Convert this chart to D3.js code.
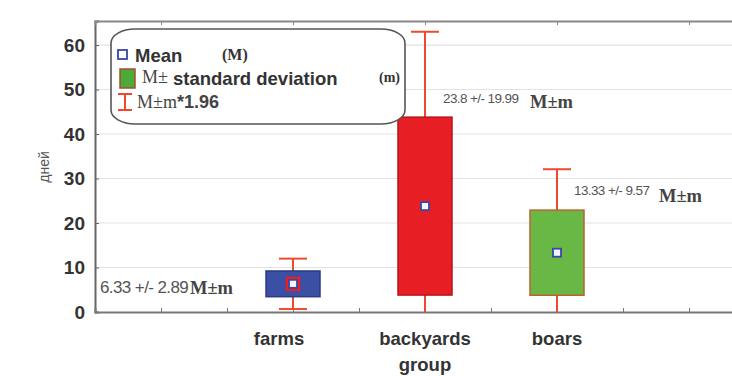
<!DOCTYPE html>
<html>
<head>
<meta charset="utf-8">
<script src="https://cdn.jsdelivr.net/npm/d3@7"></script>
<style>
  html, body { margin: 0; padding: 0; background: #fff; }
  svg { display: block; }
</style>
</head>
<body>
<svg id="chart" width="732" height="376"></svg>
<script>
// Group means with standard deviation, whiskers at M ± m*1.96
const groups = ["farms", "backyards", "boars"];
const groupPos = [1.5, 2.5, 3.5];
const means = [6.33, 23.8, 13.33];
const stdDevs = [2.89, 19.99, 9.57];
const multiplier = 1.96;
const boxFills = ["#3b4fa5", "#e81e25", "#69b845"];
const boxStrokes = ["#2c3b80", "#b5151b", "#c0602f"];
const yTicks = [0, 10, 20, 30, 40, 50, 60];
const valueLabels = ["6.33 +/- 2.89", "23.8 +/- 19.99", "13.33 +/- 9.57"];

const svg = d3.select("#chart");
const plotLeft = 95, plotRight = 755, plotTop = 21, plotBottom = 312;
const sans = "Liberation Sans, Arial, sans-serif";
const serif = "Liberation Serif, Times New Roman, serif";

const x = d3.scaleLinear().domain([0, 5]).range([plotLeft, plotRight]);
const y = d3.scaleLinear().domain([0, 65.4]).range([plotBottom, plotTop]);

const plot = svg.append("g");
plot.append("clipPath").attr("id", "clip")
  .append("rect").attr("x", plotLeft).attr("y", plotTop)
  .attr("width", plotRight - plotLeft).attr("height", plotBottom - plotTop);

// horizontal grid
plot.append("g").selectAll("line").data(yTicks.filter(d => d > 0)).join("line")
  .attr("x1", plotLeft).attr("x2", plotRight)
  .attr("y1", d => y(d)).attr("y2", d => y(d))
  .attr("stroke", "#e2e2e2").attr("stroke-width", 1.2);

// y axis
const yAxis = svg.append("g").attr("transform", `translate(${plotLeft},0)`)
  .call(d3.axisLeft(y).tickValues(yTicks).tickSize(-4).tickPadding(10));
yAxis.select(".domain").attr("stroke", "#666").attr("stroke-width", 2);
yAxis.selectAll(".tick line").attr("stroke", "#666");
yAxis.selectAll("text").attr("font-family", sans)
  .attr("font-size", 19).attr("font-weight", "bold").attr("fill", "#333");

// bottom axis with category labels
const minorTicks = d3.range(0.5, 5, 0.5);
const xAxis = svg.append("g").attr("transform", `translate(0,${plotBottom})`)
  .call(d3.axisBottom(x).tickValues(minorTicks).tickSize(-4).tickFormat(() => ""));
xAxis.select(".domain").attr("stroke", "#777").attr("stroke-width", 2);
xAxis.selectAll(".tick line").attr("stroke", "#777");

svg.append("g").selectAll("text").data(groups).join("text")
  .attr("x", (d, i) => x(groupPos[i]) - (i === 0 ? 14 : 0))
  .attr("y", 345)
  .attr("text-anchor", "middle")
  .attr("font-family", sans)
  .attr("font-size", 18.5).attr("font-weight", "bold").attr("fill", "#333")
  .text(d => d);

// top border with ticks
const topAxis = svg.append("g").attr("transform", `translate(0,${plotTop})`)
  .call(d3.axisTop(x).tickValues([0.5, 1.5, 2.5, 3.5, 4.5]).tickSize(-4).tickFormat(() => ""));
topAxis.select(".domain").attr("stroke", "#888").attr("stroke-width", 2);
topAxis.selectAll(".tick line").attr("stroke", "#888");

// axis titles
svg.append("text")
  .attr("transform", `translate(49,167) rotate(-90)`)
  .attr("text-anchor", "middle")
  .attr("font-family", sans)
  .attr("font-size", 14).attr("fill", "#555")
  .text("дней");
svg.append("text")
  .attr("x", x(2.5)).attr("y", 371)
  .attr("text-anchor", "middle")
  .attr("font-family", sans)
  .attr("font-size", 18.5).attr("font-weight", "bold").attr("fill", "#333")
  .text("group");

// data marks
const marks = svg.append("g").attr("clip-path", "url(#clip)");
const boxW = 54, capW = 28;
const data = groups.map((g, i) => ({
  g, i, cx: x(groupPos[i]), m: means[i], sd: stdDevs[i]
}));

// whiskers
marks.selectAll(".whisker").data(data).join("line")
  .attr("x1", d => d.cx).attr("x2", d => d.cx)
  .attr("y1", d => y(d.m + d.sd * multiplier)).attr("y2", d => y(d.m - d.sd * multiplier))
  .attr("stroke", "#f04a2e").attr("stroke-width", 2);
marks.selectAll(".capTop").data(data).join("line")
  .attr("x1", d => d.cx - capW / 2).attr("x2", d => d.cx + capW / 2)
  .attr("y1", d => y(d.m + d.sd * multiplier)).attr("y2", d => y(d.m + d.sd * multiplier))
  .attr("stroke", "#f04a2e").attr("stroke-width", 2);
marks.selectAll(".capBot").data(data).join("line")
  .attr("x1", d => d.cx - capW / 2).attr("x2", d => d.cx + capW / 2)
  .attr("y1", d => y(d.m - d.sd * multiplier)).attr("y2", d => y(d.m - d.sd * multiplier))
  .attr("stroke", "#f04a2e").attr("stroke-width", 2);

// boxes
marks.selectAll(".box").data(data).join("rect")
  .attr("x", d => d.cx - boxW / 2).attr("width", boxW)
  .attr("y", d => y(d.m + d.sd)).attr("height", d => y(d.m - d.sd) - y(d.m + d.sd))
  .attr("fill", d => boxFills[d.i]).attr("stroke", d => boxStrokes[d.i]).attr("stroke-width", 1.5);

// farms mean has a red frame around its marker
marks.selectAll(".meanFrame").data(data.filter(d => d.i === 0)).join("rect")
  .attr("x", d => d.cx - 6).attr("y", d => y(d.m) - 6).attr("width", 12).attr("height", 12)
  .attr("fill", "none").attr("stroke", "#e81e25").attr("stroke-width", 2.5);
marks.selectAll(".mean").data(data).join("rect")
  .attr("x", d => d.cx - 4).attr("y", d => y(d.m) - 4).attr("width", 8).attr("height", 8)
  .attr("fill", "#f4f4ff").attr("stroke", "#3848a8").attr("stroke-width", 1.8);

// value annotations
const labelPos = [
  { x: 100, y: 293, fs: 17, mx: 190, my: 294, mfs: 18.5 },
  { x: 443, y: 103, fs: 13.5, mx: 530, my: 108, mfs: 18.5 },
  { x: 574, y: 195, fs: 13.5, mx: 659, my: 202, mfs: 18.5 }
];
const ann = svg.append("g");
ann.selectAll(".val").data(valueLabels).join("text")
  .attr("x", (d, i) => labelPos[i].x).attr("y", (d, i) => labelPos[i].y)
  .attr("font-family", sans)
  .attr("font-size", (d, i) => labelPos[i].fs).attr("fill", "#555")
  .attr("letter-spacing", -0.6)
  .text(d => d);
ann.selectAll(".mm").data(valueLabels).join("text")
  .attr("x", (d, i) => labelPos[i].mx).attr("y", (d, i) => labelPos[i].my)
  .attr("font-family", serif)
  .attr("font-size", (d, i) => labelPos[i].mfs).attr("font-weight", "bold").attr("fill", "#444")
  .text("M±m");

// legend
const lg = svg.append("g");
lg.append("rect")
  .attr("x", 111).attr("y", 29).attr("width", 294).attr("height", 95)
  .attr("rx", 24).attr("ry", 14)
  .attr("fill", "#fff").attr("stroke", "#555").attr("stroke-width", 1.6);
lg.append("rect").attr("x", 118).attr("y", 50).attr("width", 9).attr("height", 9)
  .attr("fill", "#fff").attr("stroke", "#3848a8").attr("stroke-width", 1.8);
lg.append("text").attr("x", 135).attr("y", 62)
  .attr("font-family", sans)
  .attr("font-size", 18.5).attr("font-weight", "bold").attr("fill", "#333").text("Mean");
lg.append("text").attr("x", 222).attr("y", 60)
  .attr("font-family", serif)
  .attr("font-size", 16).attr("font-weight", "bold").attr("fill", "#333").text("(M)");

lg.append("rect").attr("x", 120).attr("y", 69).attr("width", 15).attr("height", 19)
  .attr("fill", "#4daa38").attr("stroke", "#a0522d").attr("stroke-width", 1.5);
lg.append("text").attr("x", 142).attr("y", 83)
  .attr("font-family", serif)
  .attr("font-size", 18).attr("fill", "#444").text("M±");
lg.append("text").attr("x", 173).attr("y", 85)
  .attr("font-family", sans)
  .attr("font-size", 18.5).attr("font-weight", "bold").attr("fill", "#333").text("standard deviation");
lg.append("text").attr("x", 379).attr("y", 82)
  .attr("font-family", serif)
  .attr("font-size", 14).attr("font-weight", "bold").attr("fill", "#333").text("(m)");

lg.append("line").attr("x1", 125).attr("x2", 125).attr("y1", 94).attr("y2", 110)
  .attr("stroke", "#f04a2e").attr("stroke-width", 2);
lg.append("line").attr("x1", 118).attr("x2", 132).attr("y1", 94).attr("y2", 94)
  .attr("stroke", "#f04a2e").attr("stroke-width", 2);
lg.append("line").attr("x1", 118).attr("x2", 132).attr("y1", 110).attr("y2", 110)
  .attr("stroke", "#f04a2e").attr("stroke-width", 2);
lg.append("text").attr("x", 137).attr("y", 108)
  .attr("font-family", serif)
  .attr("font-size", 18).attr("fill", "#444").text("M±m");
lg.append("text").attr("x", 177).attr("y", 108)
  .attr("font-family", sans)
  .attr("font-size", 18).attr("font-weight", "bold").attr("fill", "#444").text("*1.96");
</script>
</body>
</html>
